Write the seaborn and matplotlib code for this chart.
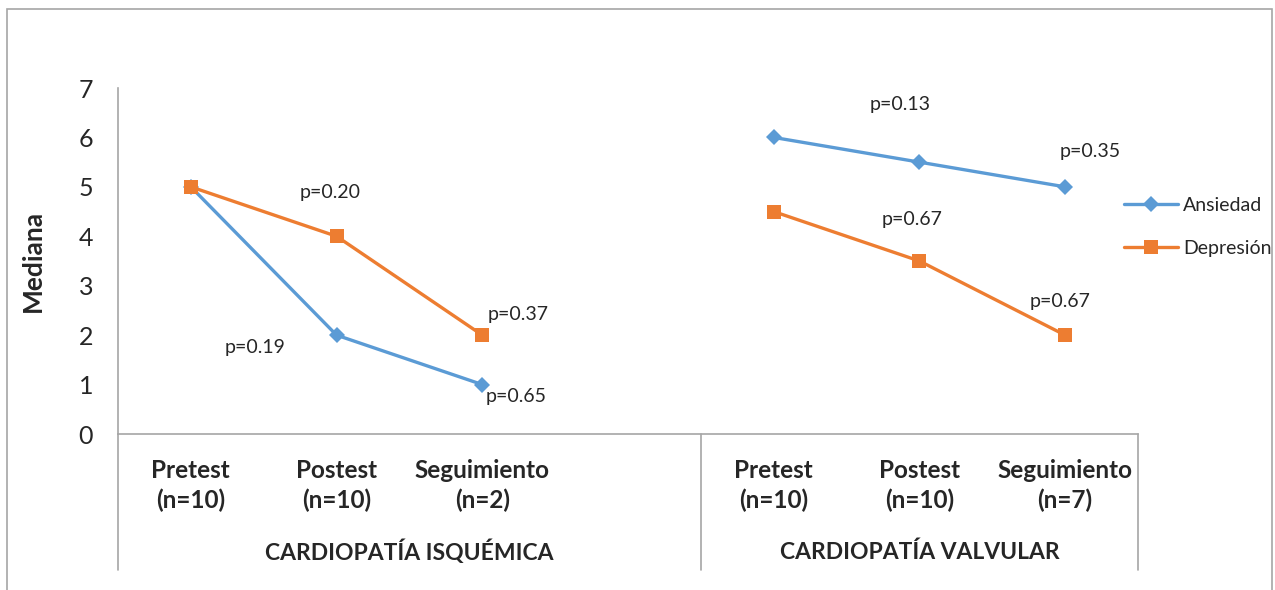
import matplotlib
matplotlib.use("Agg")
import matplotlib.pyplot as plt
import matplotlib.transforms as mtransforms
from matplotlib.patches import Rectangle
from matplotlib.lines import Line2D
import seaborn as sns
import pandas as pd
import numpy as np

# ---- data ----
categorias = ["Pretest\n(n=10)", "Postest\n(n=10)", "Seguimiento\n(n=2)", "",
              "Pretest\n(n=10)", "Postest\n(n=10)", "Seguimiento\n(n=7)"]
grupos = ["CARDIOPATÍA ISQUÉMICA", "CARDIOPATÍA VALVULAR"]
grupo_de_cat = [0, 0, 0, 0, 1, 1, 1]
ansiedad = [5, 2, 1, np.nan, 6, 5.5, 5]
depresion = [5, 4, 2, np.nan, 4.5, 3.5, 2]
series = ["Ansiedad", "Depresión"]
p_textos = ["p=0.19", "p=0.20", "p=0.37", "p=0.65", "p=0.13", "p=0.35", "p=0.67", "p=0.67"]
p_pos = [(0.44, 1.76), (0.955, 4.88), (2.245, 2.41), (2.23, 0.75),
         (4.87, 6.66), (6.17, 5.71), (4.95, 4.33), (5.965, 2.69)]

colores = {"Ansiedad": "#5B9BD5", "Depresión": "#ED7D31"}
marcadores = {"Ansiedad": "D", "Depresión": "s"}

rows = []
for s, vals in zip(series, [ansiedad, depresion]):
    for i, v in enumerate(vals):
        if not np.isnan(v):
            rows.append({"x": i, "valor": v, "serie": s, "grupo": grupo_de_cat[i]})
df = pd.DataFrame(rows)

sns.set_style("white")
plt.rcParams["font.family"] = ["Lato", "DejaVu Sans"]

W, H = 1275, 590
fig = plt.figure(figsize=(W / 100, H / 100), dpi=100)
L, R, T, B = 118, 1138, 88, 434
ax = fig.add_axes([L / W, 1 - B / H, (R - L) / W, (B - T) / H])

sns.lineplot(data=df, x="x", y="valor", hue="serie", style="serie",
             units="grupo", estimator=None, palette=colores,
             markers=marcadores, dashes=False, linewidth=2.4,
             markersize=9.5, markeredgewidth=0, ax=ax, legend=False, sort=False)
for line in ax.lines:
    if line.get_marker() == "D":
        line.set_markersize(8)

ax.set_xlim(-0.5, 6.5)
ax.set_ylim(0, 7)
ax.set_yticks(range(0, 8))
ax.set_yticklabels([str(i) for i in range(0, 8)], fontsize=18)
ax.set_xticks(range(7))
ax.set_xticklabels(categorias, fontsize=17.5, fontweight="bold", linespacing=1.35)
ax.tick_params(axis="x", length=0, pad=18)
ax.tick_params(axis="y", length=6, width=1, color="#A6A6A6", direction="out", pad=12)
ax.set_xlabel("")
ax.set_ylabel("Mediana", fontsize=19, fontweight="bold", labelpad=24)

for sp in ["top", "right"]:
    ax.spines[sp].set_visible(False)
for sp in ["left", "bottom"]:
    ax.spines[sp].set_color("#A6A6A6")
    ax.spines[sp].set_linewidth(1.2)

# category axis separators
trans = mtransforms.blended_transform_factory(ax.transData, ax.transAxes)
yb = (B - 570) / (B - T)
for xs in [-0.5, 3.5, 6.5]:
    ax.add_line(Line2D([xs, xs], [0, yb], transform=trans, color="#A6A6A6",
                       lw=1.2, clip_on=False))
ygrp = (B - 552) / (B - T)
ax.text(1.5, ygrp, grupos[0], transform=trans, ha="center", va="center",
        fontsize=16.5, fontweight="bold")
ax.text(5.0, ygrp, grupos[1], transform=trans, ha="center", va="center",
        fontsize=16.5, fontweight="bold")

for t, (px, py) in zip(p_textos, p_pos):
    ax.text(px, py, t, ha="center", va="center", fontsize=14)

# legend
handles = [Line2D([], [], color=colores[s], marker=marcadores[s], lw=2.4,
                  markersize=(8 if s == "Ansiedad" else 9.5), markeredgewidth=0)
           for s in series]
fig.legend(handles, series, loc="center left",
           bbox_to_anchor=(1124 / W, 1 - 227 / H), frameon=False, fontsize=14,
           handlelength=2.8, handletextpad=0.25, labelspacing=1.35,
           borderpad=0, borderaxespad=0)

fig.add_artist(Rectangle((7 / W, -0.01), (1272 - 7) / W, 1 - 9 / H + 0.01,
                         transform=fig.transFigure, fill=False,
                         edgecolor="#A6A6A6", lw=1.2))

fig.savefig("out.png", dpi=100)
